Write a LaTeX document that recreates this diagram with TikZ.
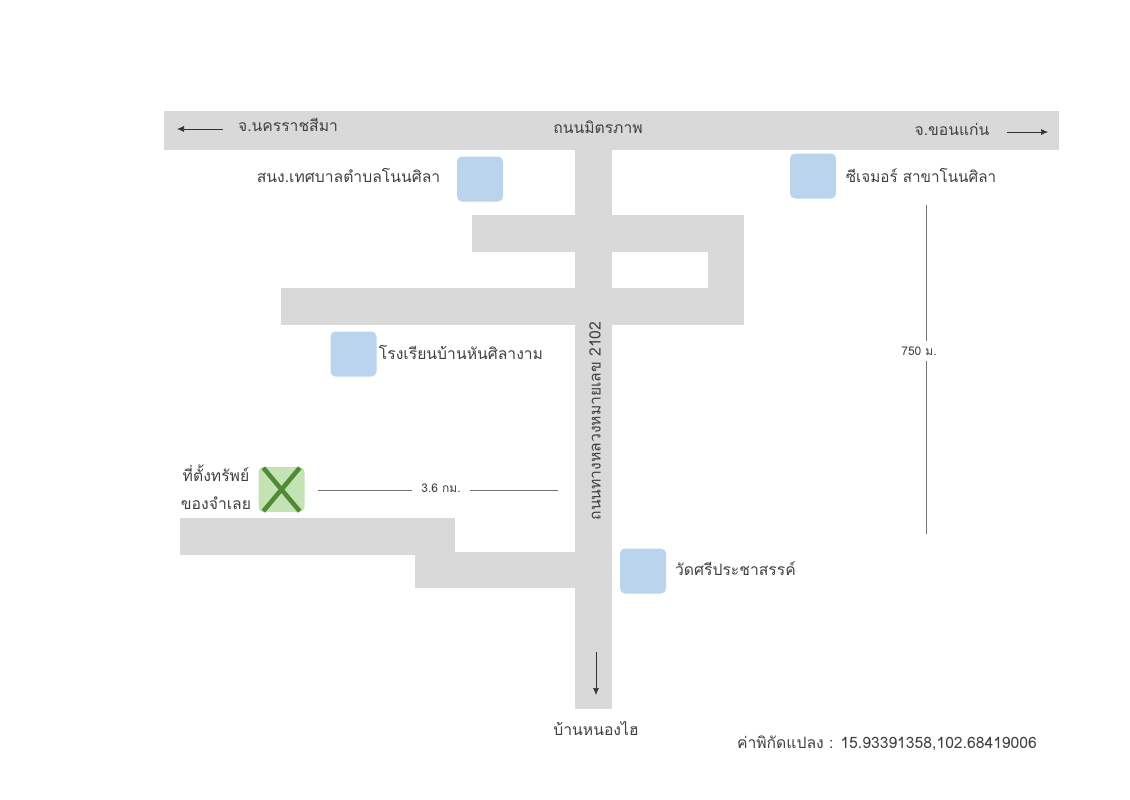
\documentclass[tikz,border=0pt]{standalone}
\usepackage{fontspec}
\usetikzlibrary{calc,arrows.meta}
\setmainfont[Script=Thai]{Loma}
\definecolor{roadgray}{HTML}{D9D9D9}
\definecolor{placeblue}{HTML}{B9D4EC}
\definecolor{plotgreen}{HTML}{C3E3B5}
\definecolor{crossgreen}{HTML}{4F8A34}
\definecolor{labelgray}{HTML}{404040}
\tikzset{
  road/.style={fill=roadgray,draw=none},
  place/.style={fill=placeblue,draw=none,rounded corners=5pt,minimum width=46pt,minimum height=45pt,inner sep=0pt},
  maptext/.style={text=labelgray,font=\fontsize{15.7}{18}\selectfont,inner sep=0pt},
  gaptext/.style={text=labelgray,fill=white,font=\fontsize{12}{14}\selectfont,inner xsep=9pt,inner ysep=6pt},
  pointer/.style={-{Latex[length=7pt,width=6pt]},black!80,line width=.7pt},
  measure/.style={black!55,line width=.9pt},
  crossline/.style={crossgreen,line width=4.5pt}
}
\begin{document}
\begin{tikzpicture}[x=1pt,y=-1pt]
  \useasboundingbox (0,0) rectangle (1130,800);
  % roads
  \fill[road] (164,111) rectangle (1059,150);
  \fill[road] (575,150) rectangle (612,709);
  \fill[road] (472,215) rectangle (744,252);
  \fill[road] (708,215) rectangle (744,325);
  \fill[road] (281,288) rectangle (744,325);
  \fill[road] (180,518) rectangle (455,555);
  \fill[road] (415,552) rectangle (575,588);
  % places
  \node[place] (office) at (480,179) {};
  \node[place] (cgmart) at (813,176) {};
  \node[place] (school) at (353.5,354) {};
  \node[place] (temple) at (643,571) {};
  \node[place,fill=plotgreen] (plot) at (281.5,489.5) {};
  \draw[crossline] ($(plot.north west)+(5,1)$) -- ($(plot.south east)+(-5,-1)$);
  \draw[crossline] ($(plot.north east)+(-5,1)$) -- ($(plot.south west)+(5,-1)$);
  % labels
  \node[maptext] (westlabel) at (288,125) {จ.นครราชสีมา};
  \node[maptext] (roadtop) at (598,127) {ถนนมิตรภาพ};
  \node[maptext] (eastlabel) at (952,129) {จ.ขอนแก่น};
  \node[maptext] (officelabel) at (348.5,175.5) {สนง.เทศบาลตำบลโนนศิลา};
  \node[maptext,xscale=.97] (cgmartlabel) at (921,175.5) {ซีเจมอร์ สาขาโนนศิลา};
  \node[maptext] (schoollabel) at (461,352.5) {โรงเรียนบ้านหันศิลางาม};
  \node[maptext] (templelabel) at (735.5,568.5) {วัดศรีประชาสรรค์};
  \node[maptext] (plotlabela) at (216,473) {ที่ตั้งทรัพย์};
  \node[maptext] (plotlabelb) at (216,503) {ของจำเลย};
  \node[maptext,rotate=90] (roadmain) at (595,421) {ถนนทางหลวงหมายเลข 2102};
  \node[maptext] (southlabel) at (596,728) {บ้านหนองไฮ};
  \node[maptext] (coords) at (887,743.5) {ค่าพิกัดแปลง : 15.93391358,102.68419006};
  % distances
  \coordinate (kmleft) at (318,490);
  \coordinate (kmright) at (558,490);
  \coordinate (mtop) at (926,205);
  \coordinate (mbottom) at (926,534);
  \draw[measure] (kmleft) -- (kmright);
  \draw[measure] (mtop) -- (mbottom);
  \node[gaptext] (kmlabel) at (441,488) {3.6 กม.};
  \node[gaptext] (mlabel) at (919,351) {750 ม.};
  % arrows
  \coordinate (wstart) at (223,129);
  \coordinate (wend) at (177,129);
  \coordinate (estart) at (1007,132);
  \coordinate (eend) at (1048,132);
  \coordinate (sstart) at (596,652);
  \coordinate (send) at (596,695);
  \draw[pointer] (wstart) -- (wend);
  \draw[pointer] (estart) -- (eend);
  \draw[pointer] (sstart) -- (send);
\end{tikzpicture}
\end{document}
